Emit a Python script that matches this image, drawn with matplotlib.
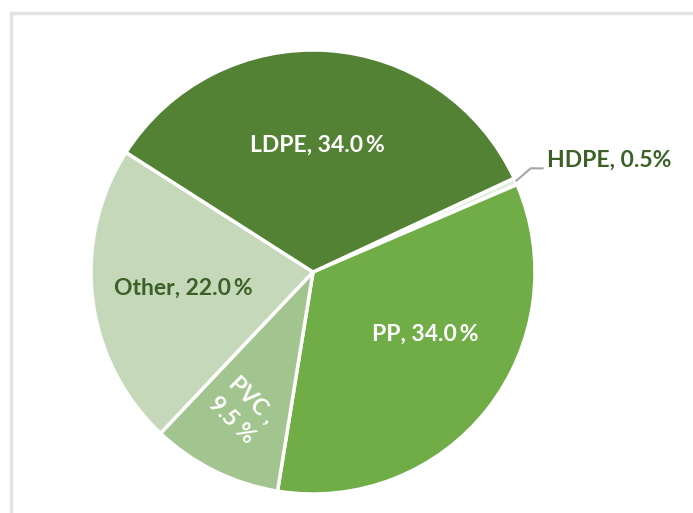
import numpy as np
import matplotlib.pyplot as plt
from matplotlib.patches import Rectangle

plt.rcParams["font.family"] = ["Lato", "DejaVu Sans"]

# ## Data (clockwise from the top-right)

labels = ["HDPE", "PP", "PVC", "Other", "LDPE"]
shares = [0.5, 34.0, 9.5, 22.0, 34.0]
colors = ["#E2EFDA", "#70AD47", "#A2C58F", "#C5D9BA", "#548235"]
text_colors = ["#3B6126", "white", "white", "#3B6126", "white"]

W, H = 693, 513
CX, CY, R = 313, H - 272, 222
START = 25

fig = plt.figure(figsize=(W / 100, H / 100), dpi=100)
ax = fig.add_axes([0, 0, 1, 1])

wedges, _ = ax.pie(
    shares, colors=colors, startangle=START, counterclock=False,
    center=(CX, CY), radius=R, frame=True,
    wedgeprops=dict(edgecolor="white", linewidth=2.5),
)
ax.set_xlim(0, W)
ax.set_ylim(0, H)
ax.set_aspect("auto")
ax.axis("off")

# light chart-area frame
ax.add_patch(Rectangle((11, -10), W + 20, H - 13 + 10, fill=False,
                       edgecolor="#E3E3E3", linewidth=2.5, zorder=0))

# label placement per slice: radius fraction, angle tweak, rotation
place = {
    "PP": (0.58, 9, 0),
    "PVC": (0.70, -1, -45),
    "Other": (0.59, 0, 0),
    "LDPE": (0.57, 2, 0),
}
FS = 16.5

for w, lab, val, tc in zip(wedges, labels, shares, text_colors):
    mid = np.deg2rad((w.theta1 + w.theta2) / 2)
    if lab == "HDPE":
        x0 = CX + R * np.cos(mid)
        y0 = CY + R * np.sin(mid)
        ax.plot([x0, x0 + 15, x0 + 28], [y0, y0 + 13, y0 + 13],
                color="#A6A6A6", lw=1.5, solid_capstyle="butt")
        ax.text(x0 + 31, y0 + 21, f"{lab}, {val:.1f}%", ha="left",
                va="center", color=tc, fontsize=FS, fontweight="bold")
        continue
    frac, dang, rot = place[lab]
    a = mid + np.deg2rad(dang)
    x = CX + frac * R * np.cos(a)
    y = CY + frac * R * np.sin(a)
    if lab == "PVC":
        ax.text(x, y, f"{lab} ,\n{val:.1f} %", ha="center", va="center",
                color=tc, fontsize=FS, fontweight="bold", rotation=rot,
                rotation_mode="anchor", linespacing=1.45)
        continue
    ax.text(x, y, f"{lab}, {val:.1f}\u2009%", ha="center", va="center",
            color=tc, fontsize=FS, fontweight="bold", rotation=rot,
            rotation_mode="anchor")

fig.savefig("out.png", dpi=100, facecolor="white")
